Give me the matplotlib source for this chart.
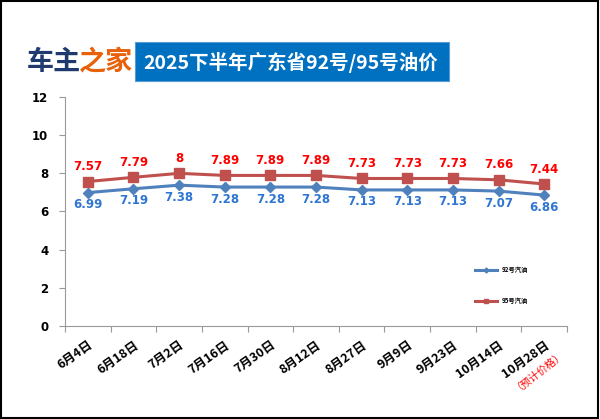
import matplotlib.pyplot as plt
from matplotlib.patches import Rectangle

plt.rcParams['font.family'] = ['Noto Sans CJK SC', 'DejaVu Sans']

dates = ["6月4日", "6月18日", "7月2日", "7月16日", "7月30日", "8月12日",
         "8月27日", "9月9日", "9月23日", "10月14日", "10月28日"]
price_92 = [6.99, 7.19, 7.38, 7.28, 7.28, 7.28, 7.13, 7.13, 7.13, 7.07, 6.86]
price_95 = [7.57, 7.79, 8, 7.89, 7.89, 7.89, 7.73, 7.73, 7.73, 7.66, 7.44]
label_95 = ["7.57", "7.79", "8", "7.89", "7.89", "7.89", "7.73", "7.73", "7.73", "7.66", "7.44"]
label_92 = ["6.99", "7.19", "7.38", "7.28", "7.28", "7.28", "7.13", "7.13", "7.13", "7.07", "6.86"]
yticks = [0, 2, 4, 6, 8, 10, 12]

blue = "#4f81bd"
red = "#c0504d"

fig = plt.figure(figsize=(6, 4.19), dpi=100)
ax = fig.add_axes([0.1083, 0.222, 0.8367, 0.5465])

x = list(range(len(dates)))
ax.plot(x, price_92, color=blue, lw=2.2, marker="D", ms=5, label="92号汽油")
ax.plot(x, price_95, color=red, lw=2.2, marker="s", ms=6.5, label="95号汽油")

for i in x:
    ax.annotate(label_95[i], (i, price_95[i]), xytext=(0, 6), textcoords="offset points",
                ha="center", va="bottom", color="#ff0000", fontsize=8.5, fontweight="bold",
                family=["DejaVu Sans"])
    ax.annotate(label_92[i], (i, price_92[i]), xytext=(0, -4), textcoords="offset points",
                ha="center", va="top", color="#2f75d2", fontsize=8.5, fontweight="bold",
                family=["DejaVu Sans"])

ax.set_xlim(-0.5, len(dates) - 0.5)
ax.set_ylim(0, 12)
ax.set_yticks(yticks)
ax.set_yticklabels([str(v) for v in yticks], fontsize=8.5, fontweight="bold", family=["DejaVu Sans"])
ax.set_xticks([i - 0.5 for i in range(len(dates) + 1)], minor=False)
ax.set_xticklabels([])
ax.set_xticks(x, minor=True)
ax.set_xticklabels(dates, minor=True, rotation=35, ha="right", rotation_mode="anchor",
                   fontsize=9, fontweight="bold")
ax.tick_params(axis="x", which="minor", length=0, pad=9)
ax.tick_params(axis="x", which="major", length=4, color="#999999")
ax.tick_params(axis="y", length=4, color="#999999", pad=8)
for s in ["top", "right"]:
    ax.spines[s].set_visible(False)
for s in ["left", "bottom"]:
    ax.spines[s].set_color("#999999")

ax.legend(loc="upper left", bbox_to_anchor=(0.805, 0.285), frameon=False,
          handlelength=3.5, labelspacing=3.8, markerscale=0.5, prop={"weight": "bold", "size": 4.5})

fig.text(0.897, 0.12, "（预计价格）", color="#ff0000", fontsize=7.5, rotation=38,
         ha="center", va="center")

# title box
fig.patches.append(Rectangle((0.225, 0.8067), 0.523, 0.093, transform=fig.transFigure,
                             facecolor="#0070c0", edgecolor="#5b9bd5", lw=0.8))
fig.text(0.238, 0.852, "2025下半年广东省92号/95号油价", color="white", fontsize=14,
         fontweight="bold", ha="left", va="center")

# logo
fig.text(0.045, 0.853, "车主", color="#1f3a6e", fontsize=19.5, fontweight="heavy",
         ha="left", va="center")
fig.text(0.131, 0.853, "之家", color="#e8620a", fontsize=19.5, fontweight="heavy",
         ha="left", va="center")

# border
fig.patches.append(Rectangle((0.002, 0.003), 0.994, 0.994, transform=fig.transFigure,
                             facecolor="none", edgecolor="black", lw=1.5))

fig.savefig("out.png", dpi=100)
